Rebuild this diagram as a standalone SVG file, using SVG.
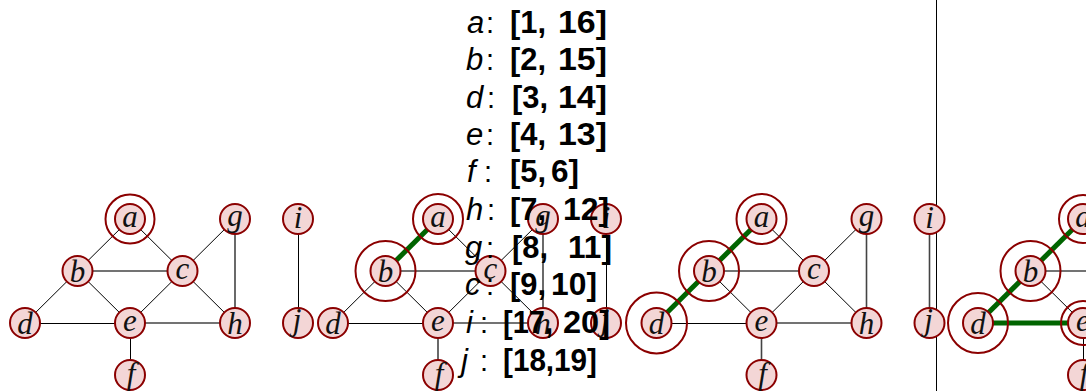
<svg xmlns="http://www.w3.org/2000/svg" width="1086" height="391" viewBox="0 0 1086 391">
<style>
.n{fill:#f3d6d6;stroke:#8b0000;stroke-width:2}
.r{fill:none;stroke:#8b0000;stroke-width:2}
.l{font-family:"Liberation Serif",serif;font-style:italic;font-size:31px;text-anchor:middle;fill:#111}
.e{stroke:#000;stroke-width:1;fill:none}
.eg{stroke:#444;stroke-width:1.6;fill:none}
.t{stroke:#006400;stroke-width:5;fill:none}
.k{font-family:"Liberation Sans",sans-serif;font-style:italic;font-size:31px;fill:#000}
.c{font-family:"Liberation Sans",sans-serif;font-size:29px;fill:#000}
.v{font-family:"Liberation Sans",sans-serif;font-weight:bold;font-size:31px;fill:#000}
</style>
<g id="connectors">
<line class="e" x1="130" y1="219" x2="77.5" y2="271"/>
<line class="e" x1="130" y1="219" x2="182.5" y2="271"/>
<line class="eg" x1="77.5" y1="271" x2="182.5" y2="271"/>
<line class="e" x1="77.5" y1="271" x2="25" y2="323"/>
<line class="e" x1="77.5" y1="271" x2="130" y2="323"/>
<line class="e" x1="182.5" y1="271" x2="130" y2="323"/>
<line class="e" x1="182.5" y1="271" x2="235" y2="219"/>
<line class="e" x1="182.5" y1="271" x2="235" y2="323"/>
<line class="eg" x1="235" y1="219" x2="235" y2="323"/>
<line class="e" x1="25" y1="323.5" x2="130" y2="323.5"/>
<line class="eg" x1="130" y1="323" x2="235" y2="323"/>
<line class="e" x1="130.5" y1="323" x2="130.5" y2="375"/>
<line class="e" x1="298.5" y1="219" x2="298.5" y2="323"/>
<line class="t" x1="438" y1="219" x2="385.5" y2="271"/>
<line class="e" x1="438" y1="219" x2="490.5" y2="271"/>
<line class="eg" x1="385.5" y1="271" x2="490.5" y2="271"/>
<line class="e" x1="385.5" y1="271" x2="333" y2="323"/>
<line class="e" x1="385.5" y1="271" x2="438" y2="323"/>
<line class="e" x1="490.5" y1="271" x2="438" y2="323"/>
<line class="e" x1="490.5" y1="271" x2="543" y2="219"/>
<line class="e" x1="490.5" y1="271" x2="543" y2="323"/>
<line class="eg" x1="543" y1="219" x2="543" y2="323"/>
<line class="e" x1="333" y1="323.5" x2="438" y2="323.5"/>
<line class="eg" x1="438" y1="323" x2="543" y2="323"/>
<line class="eg" x1="438" y1="323" x2="438" y2="375"/>
<line class="e" x1="606.5" y1="219" x2="606.5" y2="323"/>
<line class="t" x1="761.5" y1="219" x2="709" y2="271"/>
<line class="t" x1="709" y1="271" x2="656.5" y2="323"/>
<line class="e" x1="761.5" y1="219" x2="814" y2="271"/>
<line class="eg" x1="709" y1="271" x2="814" y2="271"/>
<line class="e" x1="709" y1="271" x2="761.5" y2="323"/>
<line class="e" x1="814" y1="271" x2="761.5" y2="323"/>
<line class="e" x1="814" y1="271" x2="866.5" y2="219"/>
<line class="e" x1="814" y1="271" x2="866.5" y2="323"/>
<line class="eg" x1="866.5" y1="219" x2="866.5" y2="323"/>
<line class="e" x1="656.5" y1="323.5" x2="761.5" y2="323.5"/>
<line class="eg" x1="761.5" y1="323" x2="866.5" y2="323"/>
<line class="eg" x1="761.5" y1="323" x2="761.5" y2="375"/>
<line class="eg" x1="929.5" y1="219" x2="929.5" y2="323"/>
<line class="e" x1="936.5" y1="0" x2="936.5" y2="391"/>
<line class="t" x1="1083" y1="219" x2="1030.5" y2="271"/>
<line class="t" x1="1030.5" y1="271" x2="978" y2="323"/>
<line class="t" x1="978" y1="323" x2="1083" y2="323"/>
<line class="eg" x1="1030.5" y1="271" x2="1090" y2="271"/>
<line class="e" x1="1030.5" y1="271" x2="1083" y2="323"/>
<line class="e" x1="1083.5" y1="323" x2="1083.5" y2="375"/>
</g>
<g id="graph1">
<g id="g1-a"><circle class="r" cx="130" cy="219" r="24.5"/><circle class="n" cx="130" cy="219" r="15"/><text class="l" x="130" y="227">a</text></g>
<g id="g1-b"><circle class="n" cx="77.5" cy="271" r="15"/><text class="l" x="77.5" y="282">b</text></g>
<g id="g1-c"><circle class="n" cx="182.5" cy="271" r="15"/><text class="l" x="182.5" y="279">c</text></g>
<g id="g1-d"><circle class="n" cx="25" cy="323" r="15"/><text class="l" x="25" y="334">d</text></g>
<g id="g1-e"><circle class="n" cx="130" cy="323" r="15"/><text class="l" x="130" y="331">e</text></g>
<g id="g1-f"><circle class="n" cx="130" cy="375" r="15"/><text class="l" x="131" y="384">f</text></g>
<g id="g1-g"><circle class="n" cx="235" cy="219" r="15"/><text class="l" x="235" y="226">g</text></g>
<g id="g1-h"><circle class="n" cx="235" cy="323" r="15"/><text class="l" x="235" y="334">h</text></g>
<g id="g1-i"><circle class="n" cx="298" cy="219" r="15"/><text class="l" x="298" y="228">i</text></g>
<g id="g1-j"><circle class="n" cx="298" cy="323" r="15"/><text class="l" x="297" y="330">j</text></g>
</g>
<g id="graph2">
<g id="g2-a"><circle class="r" cx="438" cy="219" r="25"/><circle class="n" cx="438" cy="219" r="15"/><text class="l" x="438" y="227">a</text></g>
<g id="g2-b"><circle class="r" cx="385.5" cy="271" r="30"/><circle class="n" cx="385.5" cy="271" r="15"/><text class="l" x="385.5" y="282">b</text></g>
<g id="g2-c"><circle class="n" cx="490.5" cy="271" r="15"/><text class="l" x="490.5" y="279">c</text></g>
<g id="g2-d"><circle class="n" cx="333" cy="323" r="15"/><text class="l" x="333" y="334">d</text></g>
<g id="g2-e"><circle class="n" cx="438" cy="323" r="15"/><text class="l" x="438" y="331">e</text></g>
<g id="g2-f"><circle class="n" cx="438" cy="375" r="15"/><text class="l" x="439" y="384">f</text></g>
<g id="g2-g"><circle class="n" cx="543" cy="219" r="15"/><text class="l" x="543" y="226">g</text></g>
<g id="g2-h"><circle class="n" cx="543" cy="323" r="15"/><text class="l" x="543" y="334">h</text></g>
<g id="g2-i"><circle class="n" cx="606" cy="219" r="15"/><text class="l" x="606" y="228">i</text></g>
<g id="g2-j"><circle class="n" cx="606" cy="323" r="15"/><text class="l" x="605" y="330">j</text></g>
</g>
<g id="graph3">
<g id="g3-a"><circle class="r" cx="761.5" cy="219" r="25"/><circle class="n" cx="761.5" cy="219" r="15"/><text class="l" x="761.5" y="227">a</text></g>
<g id="g3-b"><circle class="r" cx="709" cy="271" r="30"/><circle class="n" cx="709" cy="271" r="15"/><text class="l" x="709" y="282">b</text></g>
<g id="g3-c"><circle class="n" cx="814" cy="271" r="15"/><text class="l" x="814" y="279">c</text></g>
<g id="g3-d"><circle class="r" cx="656.5" cy="323" r="30.5"/><circle class="n" cx="656.5" cy="323" r="15"/><text class="l" x="656.5" y="334">d</text></g>
<g id="g3-e"><circle class="n" cx="761.5" cy="323" r="15"/><text class="l" x="761.5" y="331">e</text></g>
<g id="g3-f"><circle class="n" cx="761.5" cy="375" r="15"/><text class="l" x="762.5" y="384">f</text></g>
<g id="g3-g"><circle class="n" cx="866.5" cy="219" r="15"/><text class="l" x="866.5" y="226">g</text></g>
<g id="g3-h"><circle class="n" cx="866.5" cy="323" r="15"/><text class="l" x="866.5" y="334">h</text></g>
<g id="g3-i"><circle class="n" cx="929.5" cy="219" r="15"/><text class="l" x="929.5" y="228">i</text></g>
<g id="g3-j"><circle class="n" cx="929.5" cy="323" r="15"/><text class="l" x="928.5" y="330">j</text></g>
</g>
<g id="graph4">
<g id="g4-a"><circle class="r" cx="1083" cy="219" r="24"/><circle class="n" cx="1083" cy="219" r="15"/><text class="l" x="1083" y="227">a</text></g>
<g id="g4-b"><circle class="r" cx="1030.5" cy="271" r="30"/><circle class="n" cx="1030.5" cy="271" r="15"/><text class="l" x="1030.5" y="282">b</text></g>
<g id="g4-d"><circle class="r" cx="978" cy="323" r="30"/><circle class="n" cx="978" cy="323" r="15"/><text class="l" x="978" y="334">d</text></g>
<g id="g4-e"><circle class="r" cx="1083" cy="323" r="22"/><circle class="n" cx="1083" cy="323" r="15"/><text class="l" x="1083" y="331">e</text></g>
<g id="g4-f"><circle class="n" cx="1083" cy="375" r="15"/><text class="l" x="1084" y="384">f</text></g>
</g>
<g id="intervals">
<text class="k" x="467" y="33">a</text><text class="c" x="486" y="33">:</text><text class="v" x="510" y="33" textLength="36" lengthAdjust="spacingAndGlyphs">[1,</text><text class="v" x="558" y="33" textLength="49" lengthAdjust="spacingAndGlyphs">16]</text>
<text class="k" x="466" y="70">b</text><text class="c" x="486" y="70">:</text><text class="v" x="510" y="70" textLength="36" lengthAdjust="spacingAndGlyphs">[2,</text><text class="v" x="558" y="70" textLength="49" lengthAdjust="spacingAndGlyphs">15]</text>
<text class="k" x="466" y="108">d</text><text class="c" x="487" y="108">:</text><text class="v" x="512" y="108" textLength="36" lengthAdjust="spacingAndGlyphs">[3,</text><text class="v" x="558" y="108" textLength="49" lengthAdjust="spacingAndGlyphs">14]</text>
<text class="k" x="466" y="145">e</text><text class="c" x="486" y="145">:</text><text class="v" x="510" y="145" textLength="36" lengthAdjust="spacingAndGlyphs">[4,</text><text class="v" x="558" y="145" textLength="49" lengthAdjust="spacingAndGlyphs">13]</text>
<text class="k" x="467" y="182">f</text><text class="c" x="484" y="182">:</text><text class="v" x="510" y="182" textLength="36" lengthAdjust="spacingAndGlyphs">[5,</text><text class="v" x="551" y="182" textLength="28" lengthAdjust="spacingAndGlyphs">6]</text>
<text class="k" x="466" y="220">h</text><text class="c" x="487" y="220">:</text><text class="v" x="510" y="220" textLength="36" lengthAdjust="spacingAndGlyphs">[7,</text><text class="v" x="563" y="220" textLength="46" lengthAdjust="spacingAndGlyphs">12]</text>
<text class="k" x="465" y="258">g</text><text class="c" x="486" y="258">:</text><text class="v" x="512" y="258" textLength="36" lengthAdjust="spacingAndGlyphs">[8,</text><text class="v" x="568" y="258" textLength="44" lengthAdjust="spacingAndGlyphs">11]</text>
<text class="k" x="465" y="295">c</text><text class="c" x="486" y="295">:</text><text class="v" x="510" y="295" textLength="36" lengthAdjust="spacingAndGlyphs">[9,</text><text class="v" x="551" y="295" textLength="46" lengthAdjust="spacingAndGlyphs">10]</text>
<text class="k" x="466" y="333">i</text><text class="c" x="480" y="333">:</text><text class="v" x="503" y="333" textLength="50" lengthAdjust="spacingAndGlyphs">[17,</text><text class="v" x="563" y="333" textLength="47" lengthAdjust="spacingAndGlyphs">20]</text>
<text class="k" x="461" y="371">j</text><text class="c" x="480" y="371">:</text><text class="v" x="503" y="371" textLength="94" lengthAdjust="spacingAndGlyphs">[18,19]</text>
</g>
</svg>
